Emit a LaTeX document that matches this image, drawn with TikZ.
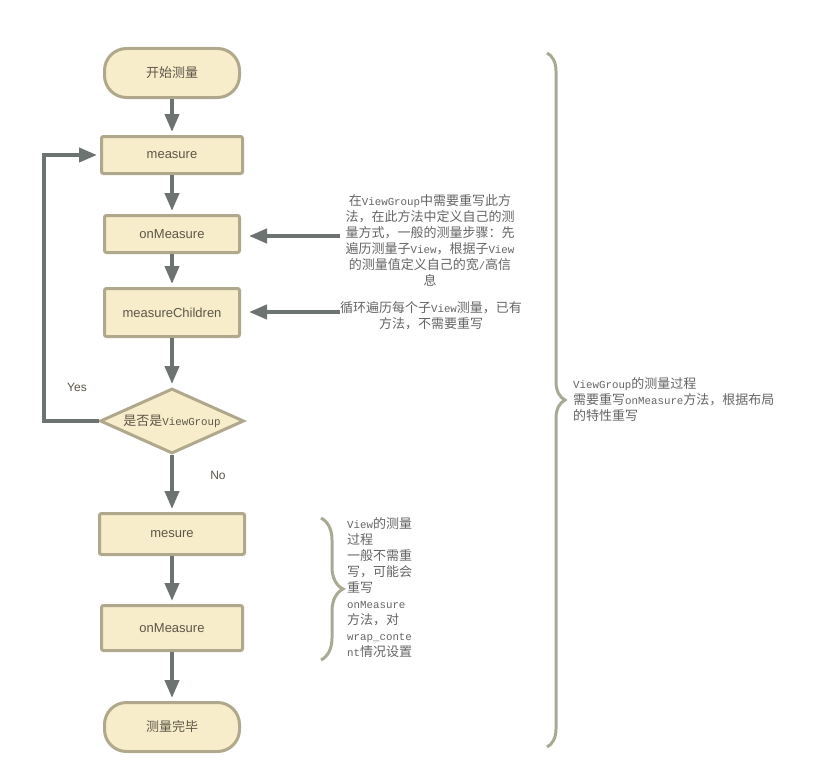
\documentclass[tikz,border=0pt]{standalone}
\usepackage{fontspec}
\setmainfont{Liberation Sans}
\newfontfamily\cjk{Noto Sans CJK SC}
\newfontfamily\monolat[Scale=0.83]{Liberation Mono}
\newcommand{\enword}[1]{{\monolat #1}}
\usetikzlibrary{shapes.geometric, arrows.meta, positioning,
                decorations.pathreplacing}
\definecolor{BoxFill}{RGB}{248,237,203}
\definecolor{BoxLine}{RGB}{176,168,140}
\definecolor{BoxText}{RGB}{92,86,72}
\definecolor{ArrowGray}{RGB}{108,115,112}
\definecolor{BraceGray}{RGB}{170,170,148}
\definecolor{NoteGray}{RGB}{100,100,100}

\begin{document}
\begin{tikzpicture}[x=1pt, y=-1pt,
  box/.style={draw=BoxLine, fill=BoxFill, line width=3pt, rounded corners=2pt,
              minimum width=135pt, minimum height=37pt,
              font=\fontsize{13}{15}\selectfont, text=BoxText},
  term/.style={box, rounded corners=22pt, minimum height=49pt},
  decision/.style={box, diamond, sharp corners, aspect=2.16, inner sep=0pt,
                   minimum width=144pt, minimum height=65pt},
  arr/.style={-{Triangle[length=18pt,width=14pt]}, ArrowGray, line width=4pt,
              shorten >=3pt},
  note/.style={font=\cjk\fontsize{13}{16}\selectfont, text=NoteGray,
               align=center, inner sep=0pt},
  brace/.style={decorate, decoration={brace, amplitude=#1}, BraceGray,
                line width=3pt},
  lbl/.style={font=\fontsize{12}{14}\selectfont, text=BoxText},
]
\useasboundingbox (0,0) rectangle (814,784);

% main flow
\node[term] (start) at (172,73) {\cjk 开始测量};
\node[box, minimum width=141pt, below=36pt of start] (measure) {measure};
\node[box, below=39pt of measure] (onmeasure) {onMeasure};
\node[box, minimum height=48pt, below=33pt of onmeasure] (children) {measureChildren};
\node[decision, below=49pt of children] (isgroup) {\cjk 是否是\enword{ViewGroup}};
\node[box, minimum width=145pt, minimum height=41pt, below=57pt of isgroup]
  (mesure) {mesure};
\node[box, minimum width=141pt, minimum height=45pt, below=48pt of mesure]
  (viewmeasure) {onMeasure};
\node[term, below=49pt of viewmeasure] (finish) {\cjk 测量完毕};

\draw[arr] (start) -- (measure);
\draw[arr] (measure) -- (onmeasure);
\draw[arr] (onmeasure) -- (children);
\draw[arr] (children) -- (isgroup);
\draw[arr] (isgroup.west) -- ++(-55,0) |- (measure.west);
\draw[arr] (isgroup) -- (mesure);
\draw[arr] (mesure) -- (viewmeasure);
\draw[arr] (viewmeasure) -- (finish);

\node[lbl] (yes) at (77,387) {Yes};
\node[lbl] (no) at (218,475) {No};

% notes on the ViewGroup steps
\node[note] (note1) at (430,240)
  {在\enword{ViewGroup}中需要重写此方\\法，在此方法中定义自己的测\\量方式，一般的测量步骤：先\\遍历测量子\enword{View}，根据子\enword{View}\\的测量值定义自己的宽\enword{/}高信\\息};
\node[note] (note2) at (431,316)
  {循环遍历每个子\enword{View}测量，已有\\方法，不需要重写};
\coordinate (n1) at (340,236);
\coordinate (n2) at (340,312);
\draw[arr, shorten >=8pt] (n1) -- (n1 -| onmeasure.east);
\draw[arr, shorten >=8pt] (n2) -- (n2 -| children.east);

% braces
\draw[brace=22pt] (321,518) -- (321,660);
\node[note, align=left, anchor=west] (note3) at (347,588)
  {\enword{View}的测量\\过程\\一般不需重\\写，可能会\\重写\\\enword{onMeasure}\\方法，对\\\enword{wrap\_conte}\\\enword{nt}情况设置};
\draw[brace=18pt] (547,53) -- (547,747);
\node[note, align=left, anchor=west] (note4) at (573,400)
  {\enword{ViewGroup}的测量过程\\需要重写\enword{onMeasure}方法，根据布局\\的特性重写};
\end{tikzpicture}
\end{document}
